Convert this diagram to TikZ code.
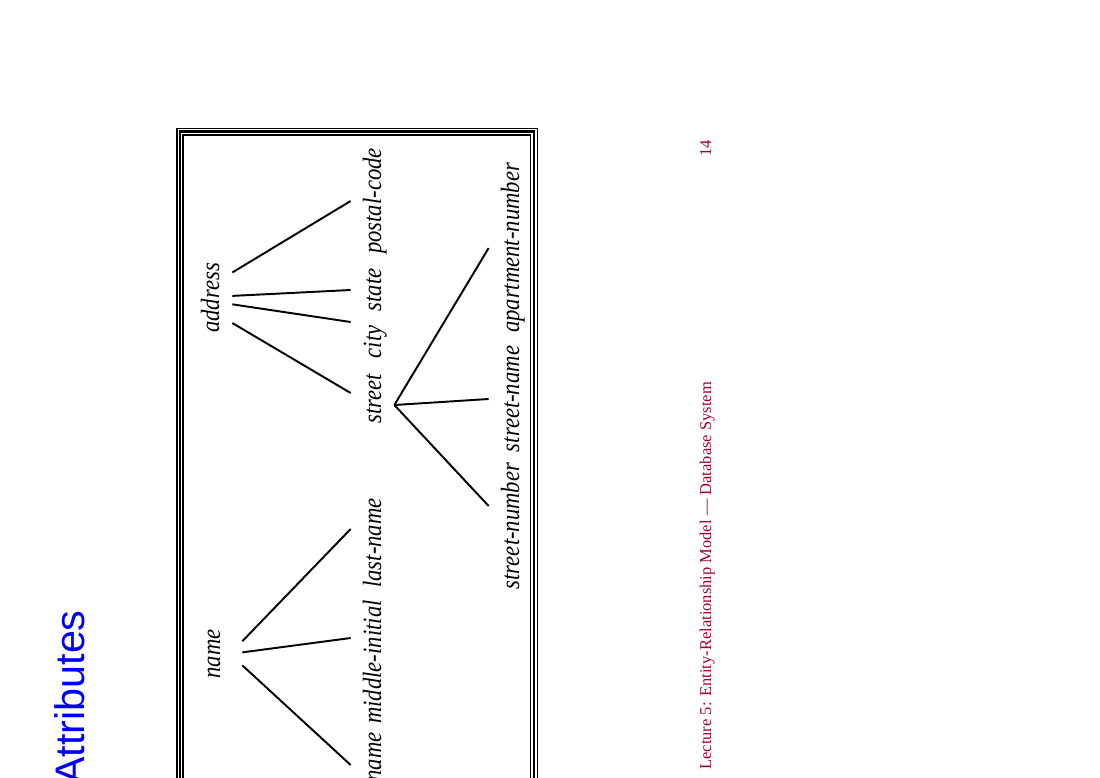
\documentclass[tikz,border=0pt]{standalone}
\usepackage{fontspec}
\usepackage{xcolor}
\usepackage{tikz}
\setmainfont{Liberation Serif}
\newfontfamily\attrfont[FakeStretch=0.86]{Liberation Serif}
\newfontfamily\titlefont{Liberation Sans}
\definecolor{footred}{RGB}{165,0,45}

\begin{document}
\begin{tikzpicture}[x=0.02cm, y=-0.02cm,
        attr/.style={font=\attrfont\itshape\fontsize{15}{18}\selectfont, rotate=90, anchor=base, inner sep=0pt},
        leaf/.style={attr, text height=0.6cm, text depth=0.26cm},
        conn/.style={line width=1.1pt},
        foot/.style={font=\fontsize{9.4}{11}\selectfont, text=footred, rotate=90, inner sep=0pt},
    ]
    \useasboundingbox (0,0) rectangle (1100,778);
    \clip (0,0) rectangle (1100,778);

    % Title
    \node[font=\titlefont\fontsize{23.5}{28}\selectfont, text=blue, rotate=90, anchor=base east, inner sep=0pt] (title) at (84, 610) {Attributes};

    % Frame
    \draw[line width=0.6pt] (177,128.5) rectangle (537.5,800);
    \draw[line width=1.4pt] (180,131.5) rectangle (534,800);
    \draw[line width=0.6pt] (183,135) rectangle (530.5,800);

    % Composite attributes
    \node[attr, text height=1.42cm, text depth=0.26cm] (address) at (219, 298) {address};
    \node[attr, text height=0.04cm, text depth=0.44cm] (name) at (220, 654) {name};

    % Components
    \node[leaf] (postal) at (381, 201) {postal-code};
    \node[leaf] (state) at (381, 290) {state};
    \node[leaf] (city) at (381, 342) {city};
    \node[leaf] (street) at (381, 399) {street};
    \node[leaf] (lastname) at (381, 543) {last-name};
    \node[leaf] (midinit) at (381, 662) {middle-initial};
    \node[leaf] (firstname) at (381, 779) {first-name};

    % Components of street
    \node[leaf] (aptnum) at (519, 248) {apartment-number};
    \node[leaf] (stname) at (519, 399) {street-name};
    \node[leaf] (stnum) at (519, 526) {street-number};

    % Lines
    \draw[conn] (address) -- (postal.north);
    \draw[conn] (address) -- (state.north);
    \draw[conn] (address) -- ([yshift=0.4cm]city.north);
    \draw[conn] (address) -- ([yshift=0.12cm]street.north);
    \draw[conn] (name) -- ([yshift=0.28cm]lastname.north);
    \draw[conn] (name) -- ([yshift=0.48cm]midinit.north);
    \draw[conn] (name) -- ([yshift=0.28cm]firstname.north);
    \draw[conn] ([yshift=-0.12cm]street.south) -- (aptnum.north);
    \draw[conn] ([yshift=-0.12cm]street.south) -- (stname.north);
    \draw[conn] ([yshift=-0.12cm]street.south) -- ([yshift=0.4cm]stnum.north);

    % Footer
    \node[foot, anchor=base west] (footer) at (711, 770) {Lecture 5: Entity-Relationship Model — Database System};
    \node[foot, anchor=base east] (page) at (711, 140) {14};

    \end{tikzpicture}
\end{document}
